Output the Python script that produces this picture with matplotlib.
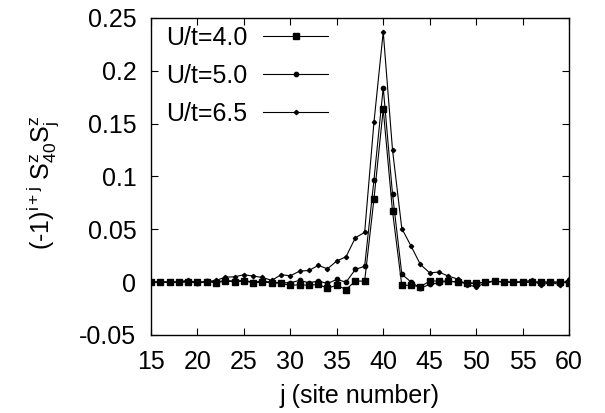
import matplotlib
matplotlib.use("Agg")
import matplotlib.pyplot as plt
import numpy as np

plt.rcParams['font.family'] = ['Liberation Sans', 'DejaVu Sans']
plt.rcParams['mathtext.fontset'] = 'custom'
plt.rcParams['mathtext.rm'] = 'Liberation Sans'
plt.rcParams['mathtext.it'] = 'Liberation Sans'
plt.rcParams['axes.unicode_minus'] = False

# site index j
sites = list(range(15, 61))

# U/t = 4.0 (squares)
corr_u40 = [0, 0, 0, 0, 0, 0, 0.0005, -0.0006, 0.001, 0.0003, 0.001, -0.0006, 0, -0.0006,
            -0.0013, -0.003, -0.0025, -0.003, -0.0022, -0.0057, -0.003, -0.007, 0.001, 0.001,
            0.0785, 0.1636, 0.067, -0.003, -0.003, -0.0044, 0.001, 0.001, 0.001, 0, -0.0005,
            -0.001, 0, 0.001, 0, 0, 0, 0, 0, 0, 0, -0.0008]

# U/t = 5.0 (circles)
corr_u50 = [0, 0, 0, 0, 0.001, -0.0013, 0.001, 0, 0.0016, 0.001, 0.0016, 0, 0.001, 0,
            -0.0006, -0.0006, 0.0016, -0.0006, 0.001, -0.0013, 0.0025, 0, 0.012, 0.015,
            0.0964, 0.184, 0.0832, 0.0076, 0, -0.0057, -0.0022, -0.0006, 0.001, 0, -0.0013,
            -0.0013, 0, 0.001, 0, 0, 0, 0, 0, 0, 0, -0.0006]

# U/t = 6.5 (diamonds)
corr_u65 = [0, 0, 0, 0, 0.002, -0.001, 0.0006, 0.0016, 0.0047, 0.005, 0.007, 0.0057, 0.0044,
            0.0016, 0.007, 0.006, 0.0104, 0.011, 0.0158, 0.0126, 0.020, 0.024, 0.042, 0.047,
            0.151, 0.2367, 0.125, 0.0507, 0.034, 0.0167, 0.0088, 0.0095, 0.0057, 0.003,
            -0.0025, -0.0044, -0.001, 0.001, 0, 0, 0, 0.002, -0.003, 0, -0.0025, 0.0025]

labels = ['U/t=4.0', 'U/t=5.0', 'U/t=6.5']
xticks = [15, 20, 25, 30, 35, 40, 45, 50, 55, 60]
yticks = [-0.05, 0, 0.05, 0.1, 0.15, 0.2, 0.25]
ytick_labels = ['-0.05', '0', '0.05', '0.1', '0.15', '0.2', '0.25']

fig = plt.figure(figsize=(6.05, 4.13), dpi=100)
ax = fig.add_axes([0.2496, 0.1889, 0.6909, 0.7681])

ax.plot(sites, corr_u40, color='black', lw=0.8, marker='s', ms=4.1, label=labels[0])
ax.plot(sites, corr_u50, color='black', lw=0.8, marker='o', ms=3.1, label=labels[1])
ax.plot(sites, corr_u65, color='black', lw=0.8, marker='D', ms=2.2, label=labels[2])

ax.set_xlim(15, 60)
ax.set_ylim(-0.05, 0.25)
ax.set_xticks(xticks)
ax.set_yticks(yticks)
ax.set_yticklabels(ytick_labels)
ax.tick_params(direction='in', top=True, right=True, length=5, width=0.8,
               labelsize=18)
ax.tick_params(axis='x', pad=11)
ax.tick_params(axis='y', pad=10.5)
for s in ax.spines.values():
    s.set_linewidth(1.0)

ax.set_xlabel('j (site number)', fontsize=18, labelpad=7)
ax.set_ylabel(r'(-1)$^{i+j}$ S$^z_{40}$S$^z_j$', fontsize=18)
ax.yaxis.set_label_coords(-0.2165, 0.48)

ax.legend(loc='upper left', frameon=False, fontsize=18, markerfirst=False,
          handlelength=2.6, handletextpad=0.64, labelspacing=0.56,
          borderaxespad=0.3, bbox_to_anchor=(-0.0067, 1.03))

fig.savefig('out.png', dpi=100)
